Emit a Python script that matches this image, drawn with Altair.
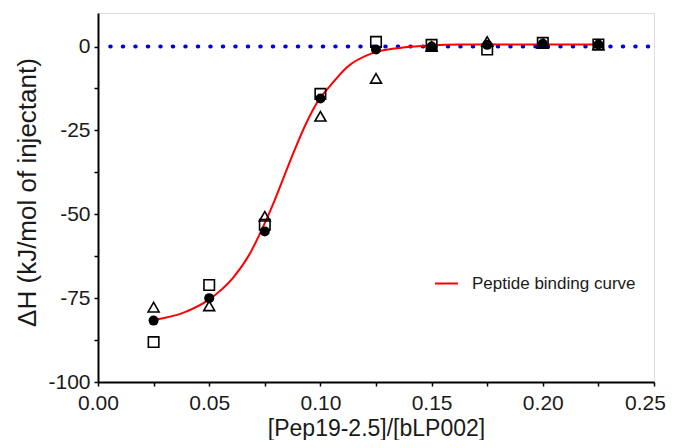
import altair as alt
import pandas as pd

# Titration points (molar ratio) and enthalpy readings for three runs
ratio = [0.025, 0.05, 0.075, 0.10, 0.125, 0.15, 0.175, 0.20, 0.225]
run_square = [-88.1, -71.1, -53.1, -14.1, 1.4, 0.5, -0.9, 1.1, 0.6]
run_triangle = [-77.7, -77.3, -50.6, -20.8, -9.5, 0.0, 1.5, 0.9, 0.5]
run_circle = [-81.7, -75.0, -55.1, -15.5, -0.9, 0.0, 0.5, 0.8, 0.6]

# Fitted binding curve
curve_x = [0.025, 0.0385, 0.0497, 0.0609, 0.0685, 0.0737, 0.079, 0.0835, 0.088,
           0.0935, 0.0984, 0.1043, 0.1117, 0.1237, 0.1357, 0.1493, 0.163, 0.19, 0.225]
curve_y = [-81.5, -79.3, -75.5, -68.8, -61.5, -54.5, -46.5, -39.0, -31.5,
           -23.0, -16.8, -11.8, -6.3, -1.9, -0.4, 0.3, 0.6, 0.6, 0.6]
curve_name = "Peptide binding curve"

# Zero reference line
zero_x = [0.0055]
zero_x2 = [0.25]
zero_y = [0]

y_ticks = [-100, -87.5, -75, -62.5, -50, -37.5, -25, -12.5, 0]
x_ticks = [0, 0.025, 0.05, 0.075, 0.10, 0.125, 0.15, 0.175, 0.20, 0.225, 0.25]

FONT = "Liberation Sans"
TXT = "#1a1a1a"

pts = pd.DataFrame({
    "x": ratio * 3,
    "y": run_square + run_triangle + run_circle,
    "run": ["square"] * len(ratio) + ["triangle"] * len(ratio) + ["circle"] * len(ratio),
})
curve = pd.DataFrame({"x": curve_x, "y": curve_y, "series": [curve_name] * len(curve_x)})
zero = pd.DataFrame({"x": zero_x, "x2": zero_x2, "y": zero_y})

xscale = alt.Scale(domain=[0, 0.25], nice=False, zero=False)
yscale = alt.Scale(domain=[-100, 10], nice=False, zero=False)

xaxis = alt.Axis(
    values=x_ticks, title="[Pep19-2.5]/[bLP002]",
    labelExpr="round(datum.value*1000) % 50 === 0 ? format(datum.value, '.2f') : ''",
    labelOffset={"condition": {"test": "datum.value > 0.24", "value": -9}, "value": 0},
    grid=False, domainColor="black", domainWidth=2, tickColor="black", tickWidth=1.5,
    tickSize=4, labelFont=FONT, labelFontSize=21, labelColor=TXT, labelPadding=6,
    titleFont=FONT, titleFontSize=23, titleFontWeight="normal", titleColor=TXT,
    titleY=53, titleBaseline="alphabetic", labelFlush=False, labelOverlap=False,
)
yaxis = alt.Axis(
    values=y_ticks, title="ΔH (kJ/mol of injectant)",
    labelExpr="datum.value % 25 === 0 ? '' + datum.value : ''",
    grid=False, domainColor="black", domainWidth=2, tickColor="black", tickWidth=1.5,
    tickSize=4, labelFont=FONT, labelFontSize=21, labelColor=TXT, labelPadding=4,
    titleFont=FONT, titleFontSize=26, titleFontWeight="normal", titleColor=TXT,
    titleX=-71, titleY=179, titleBaseline="middle", titleAnchor="middle",
    labelOverlap=False, labelFlush=False,
)

zero_line = alt.Chart(zero).mark_rule(
    color="#0000dd", strokeWidth=4, strokeDash=[0.5, 12], strokeCap="round"
).encode(
    x=alt.X("x:Q", scale=xscale, axis=xaxis),
    x2="x2:Q",
    y=alt.Y("y:Q", scale=yscale, axis=yaxis),
)

fit = alt.Chart(curve).mark_line(strokeWidth=2, interpolate="monotone").encode(
    x=alt.X("x:Q", scale=xscale),
    y=alt.Y("y:Q", scale=yscale),
    color=alt.Color(
        "series:N",
        scale=alt.Scale(domain=[curve_name], range=["#ff0000"]),
        legend=alt.Legend(
            orient="none", legendX=336, legendY=258, title=None,
            symbolType="stroke", symbolSize=529, symbolStrokeWidth=2,
            labelFont=FONT, labelFontSize=17, labelColor=TXT, labelOffset=13,
            labelLimit=400, padding=0,
        ),
    ),
)

sq = alt.Chart(pts).transform_filter("datum.run == 'square'").mark_point(
    shape="square", size=110, filled=False, color="black", strokeWidth=1.6, opacity=1
).encode(x=alt.X("x:Q", scale=xscale), y=alt.Y("y:Q", scale=yscale))

tri = alt.Chart(pts).transform_filter("datum.run == 'triangle'").mark_point(
    shape="triangle-up", size=120, filled=False, color="black", strokeWidth=1.6, opacity=1
).encode(x=alt.X("x:Q", scale=xscale), y=alt.Y("y:Q", scale=yscale))

cir = alt.Chart(pts).transform_filter("datum.run == 'circle'").mark_point(
    shape="circle", size=100, filled=True, color="black", opacity=1
).encode(x=alt.X("x:Q", scale=xscale), y=alt.Y("y:Q", scale=yscale))

chart = alt.layer(zero_line, fit, sq, tri, cir).properties(
    width=556, height=369,
    autosize=alt.AutoSizeParams(type="none"),
    padding={"left": 90, "top": 5, "right": 14, "bottom": 58},
).configure_view(stroke=None).configure(background="white")

chart.save("out.html", embed_options={"renderer": "svg", "actions": False})
